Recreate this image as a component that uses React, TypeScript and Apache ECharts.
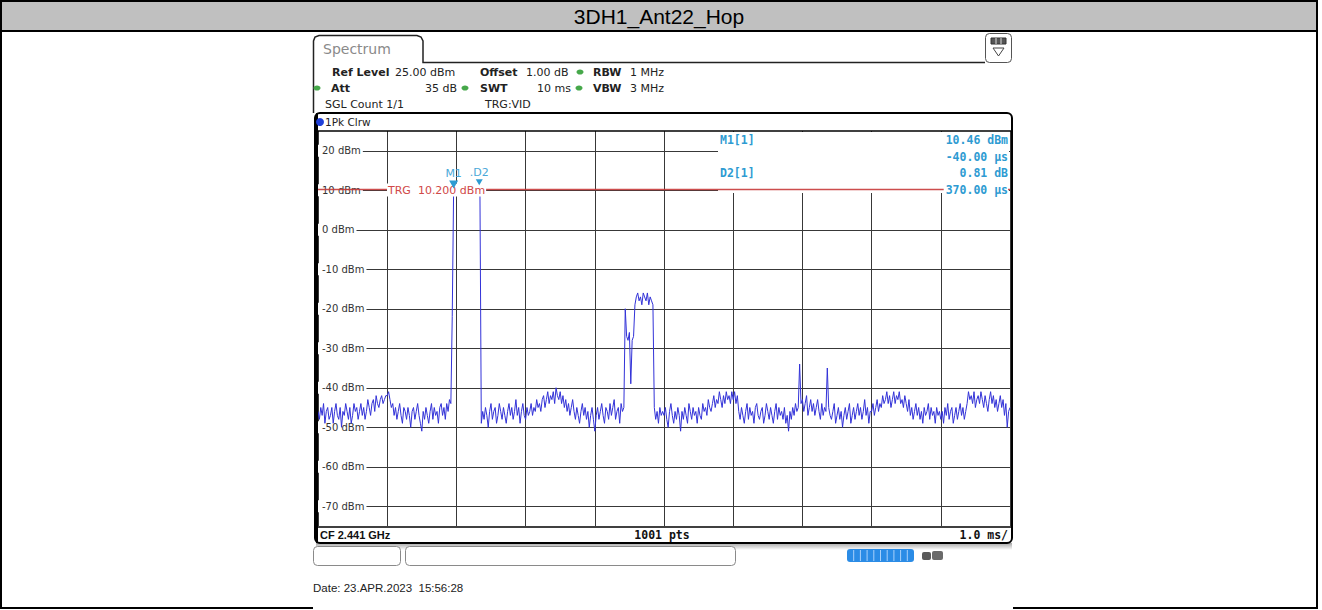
import React, { useEffect, useRef } from "react";
import * as echarts from "echarts";

// ---------- data ----------
const chartTitle = "3DH1_Ant22_Hop";
const sweepStartMs = -2;
const sweepStepMs = 0.02;
// trace levels (dBm), one row per 1 ms division (50 samples each)
const traceRow0 = [
  -46, -48, -45, -47, -44, -49, -46, -45, -48, -47,
  -45, -49, -46, -44, -47, -48, -45, -50, -46, -47,
  -44, -46, -48, -45, -49, -47, -44, -46, -45, -48,
  -46, -44, -47, -45, -48, -46, -43, -45, -47, -44,
  -43, -46, -42, -44, -45, -43, -42, -44, -43, -42,
];
const traceRow1 = [
  -42, -41, -43, -45, -44, -47, -45, -48, -46, -44,
  -47, -49, -45, -46, -48, -45, -47, -50, -46, -45,
  -48, -46, -44, -47, -49, -51, -46, -48, -45, -47,
  -49, -46, -44, -48, -45, -47, -46, -49, -45, -44,
  -47, -45, -48, -44, -46, -43, -44, -22, 10.46, 9.9,
];
const traceRow2 = [
  10.1, 9.8, 10.0, 10.2, 9.9, 10.1, 10.0, 9.8, 10.2, 10.0,
  9.9, 10.1, 10.0, 10.2, 9.9, 10.1, 11.27, 10.0, -49, -46,
  -48, -45, -47, -50, -46, -44, -48, -46, -45, -49,
  -47, -44, -46, -48, -45, -47, -49, -46, -44, -47,
  -45, -48, -46, -43, -47, -45, -49, -46, -44, -47,
];
const traceRow3 = [
  -48, -45, -47, -46, -44, -47, -45, -46, -43, -45,
  -44, -46, -43, -42, -45, -43, -41, -44, -42, -43,
  -41, -44, -40, -42, -43, -41, -44, -42, -45, -43,
  -46, -44, -47, -45, -43, -46, -48, -45, -47, -49,
  -46, -44, -47, -45, -48, -46, -50, -47, -45, -48,
];
const traceRow4 = [
  -51, -47, -45, -48, -46, -44, -47, -49, -45, -46,
  -48, -44, -47, -45, -43, -48, -46, -45, -49, -44,
  -46, -45, -20, -27, -28, -26, -39, -28, -27, -19,
  -17, -16, -18, -17, -19, -16, -17, -18, -16, -19,
  -17, -18, -19, -45, -48, -46, -49, -45, -47, -46,
];
const traceRow5 = [
  -47, -45, -48, -50, -46, -44, -47, -49, -46, -48,
  -45, -47, -51, -46, -48, -45, -47, -49, -44, -46,
  -48, -45, -47, -46, -49, -45, -47, -48, -44, -46,
  -45, -47, -43, -45, -46, -44, -42, -45, -43, -44,
  -41, -43, -45, -42, -44, -41, -43, -42, -44, -41,
];
const traceRow6 = [
  -43, -41, -44, -42, -46, -48, -45, -47, -49, -46,
  -44, -48, -45, -47, -46, -49, -45, -44, -47, -48,
  -46, -45, -49, -47, -44, -46, -48, -45, -47, -49,
  -46, -44, -48, -45, -47, -46, -48, -45, -49, -47,
  -51, -46, -48, -45, -47, -44, -46, -45, -34, -44,
];
const traceRow7 = [
  -43, -46, -44, -42, -47, -45, -43, -46, -44, -47,
  -45, -43, -46, -48, -44, -47, -45, -46, -35, -45,
  -47, -48, -46, -44, -49, -47, -45, -48, -46, -50,
  -47, -45, -48, -46, -44, -49, -47, -45, -48, -46,
  -44, -47, -45, -48, -46, -43, -47, -45, -49, -46,
];
const traceRow8 = [
  -46, -44, -47, -45, -43, -46, -44, -45, -42, -44,
  -43, -41, -44, -42, -45, -43, -41, -44, -42, -43,
  -41, -44, -43, -45, -42, -44, -46, -43, -47, -45,
  -48, -46, -44, -47, -45, -48, -46, -49, -45, -47,
  -46, -44, -48, -45, -47, -46, -49, -45, -47, -46,
];
const traceRow9 = [
  -48, -46, -49, -45, -47, -44, -48, -46, -45, -49,
  -47, -45, -48, -46, -44, -47, -45, -48, -46, -44,
  -41, -43, -42, -44, -41, -45, -43, -42, -44, -41,
  -43, -45, -42, -44, -46, -43, -41, -44, -42, -45,
  -43, -46, -44, -42, -45, -43, -47, -44, -50, -46,
];
const traceLast = [-45];

const timeMinMs = -2;
const timeMaxMs = 8;
const timeDivMs = 1;
const levelMinDbm = -75;
const levelMaxDbm = 25;
const levelTicks = [20, 10, 0, -10, -20, -30, -40, -50, -60, -70];
const triggerLevelDbm = 10.2;
const m1Coord = [-0.04, 10.46];
const d2Coord = [0.33, 11.27];

const headerRow1 = [
  { t: "Ref Level", b: true, x: 332 },
  { t: "25.00 dBm", b: false, x: 395 },
  { t: "Offset", b: true, x: 480 },
  { t: "1.00 dB", b: false, x: 526 },
  { t: "RBW", b: true, x: 593 },
  { t: "1 MHz", b: false, x: 630 },
];
const headerRow2 = [
  { t: "Att", b: true, x: 331 },
  { t: "SWT", b: true, x: 480 },
  { t: "10 ms", b: false, x: 537 },
  { t: "VBW", b: true, x: 593 },
  { t: "3 MHz", b: false, x: 630 },
];
const markerInfoLeft = ["M1[1]", "D2[1]"];
const markerInfoRight = ["10.46 dBm", "-40.00 \u00b5s", "0.81 dB", "370.00 \u00b5s"];

// ---------- styles ----------
const gridColor = "#383838";
const traceColor = "#3232d8";
const markerColor = "#2e9bd2";
const trgColor = "#c83a3a";
const sans = '"DejaVu Sans", Verdana, sans-serif';
const mono = '"DejaVu Sans Mono", monospace';
const arial = '"Liberation Sans", Arial, sans-serif';

function txt(x: number, y: number, text: string, font: string, fill: string, extra: any = {}, z = 7) {
  return {
    type: "text",
    x,
    y,
    z,
    silent: true,
    style: { text, font, fill, verticalAlign: "middle", align: "left", ...extra },
  };
}

export default function App() {
  const ref = useRef<HTMLDivElement>(null);

  useEffect(() => {
    if (!ref.current) return;
    const chart = echarts.init(ref.current, null, { renderer: "svg" });

    const levels = [
      ...traceRow0, ...traceRow1, ...traceRow2, ...traceRow3, ...traceRow4,
      ...traceRow5, ...traceRow6, ...traceRow7, ...traceRow8, ...traceRow9, ...traceLast,
    ];
    const traceData = levels.map((v, i) => [+(sweepStartMs + i * sweepStepMs).toFixed(2), v]);

    const graphics: any[] = [];
    // outer frame & title bar
    graphics.push({ type: "rect", z: 1, silent: true, shape: { x: 1, y: 1, width: 1316, height: 30 }, style: { fill: "#c0c0c0", stroke: "#000", lineWidth: 2 } });
    graphics.push(txt(659, 16.5, chartTitle, `21px ${arial}`, "#000", { align: "center" }, 2));
    graphics.push({ type: "line", z: 1, silent: true, shape: { x1: 1, y1: 31, x2: 1, y2: 609 }, style: { stroke: "#000", lineWidth: 2 } });
    graphics.push({ type: "line", z: 1, silent: true, shape: { x1: 1317, y1: 31, x2: 1317, y2: 609 }, style: { stroke: "#000", lineWidth: 2 } });
    graphics.push({ type: "line", z: 1, silent: true, shape: { x1: 0, y1: 608, x2: 313, y2: 608 }, style: { stroke: "#000", lineWidth: 2 } });
    graphics.push({ type: "line", z: 1, silent: true, shape: { x1: 1013, y1: 608, x2: 1318, y2: 608 }, style: { stroke: "#000", lineWidth: 2 } });

    // tab
    graphics.push({
      type: "polyline", z: 2, silent: true,
      shape: { points: [[313.5, 113], [313.5, 41], [315, 37], [319, 35.5], [417, 35.5], [421, 37], [423, 41], [423, 62.5], [985, 62.5]] },
      style: { stroke: "#222", lineWidth: 1.5, fill: "none" },
    });
    graphics.push(txt(323, 49, "Spectrum", `14px ${sans}`, "#8a8a8a", {}, 3));
    // icon top right
    graphics.push({ type: "rect", z: 2, silent: true, shape: { x: 985.5, y: 33.5, width: 26, height: 29, r: 4 }, style: { fill: "#fff", stroke: "#555", lineWidth: 1 } });
    graphics.push({ type: "rect", z: 3, silent: true, shape: { x: 991, y: 38, width: 15, height: 6 }, style: { fill: "#555", stroke: "#333", lineWidth: 1 } });
    graphics.push({ type: "line", z: 4, silent: true, shape: { x1: 996, y1: 38, x2: 996, y2: 44 }, style: { stroke: "#ddd", lineWidth: 1 } });
    graphics.push({ type: "line", z: 4, silent: true, shape: { x1: 1001, y1: 38, x2: 1001, y2: 44 }, style: { stroke: "#ddd", lineWidth: 1 } });
    graphics.push({ type: "polygon", z: 3, silent: true, shape: { points: [[993, 48], [1004, 48], [998.5, 56]] }, style: { fill: "none", stroke: "#444", lineWidth: 1 } });

    // header
    headerRow1.forEach((h) => graphics.push(txt(h.x, 72, h.t, `${h.b ? "bold " : ""}11px ${sans}`, "#222", {}, 3)));
    headerRow2.forEach((h) => graphics.push(txt(h.x, 88, h.t, `${h.b ? "bold " : ""}11px ${sans}`, "#222", {}, 3)));
    graphics.push(txt(457, 88, "35 dB", `11px ${sans}`, "#222", { align: "right" }, 3));
    graphics.push(txt(325, 104.5, "SGL Count 1/1", `11px ${sans}`, "#222", {}, 3));
    graphics.push(txt(485, 104.5, "TRG:VID", `11px ${sans}`, "#222", {}, 3));
    [[580, 72], [317, 88], [465, 88], [579, 88]].forEach((p) =>
      graphics.push({ type: "ellipse", z: 4, silent: true, shape: { cx: p[0], cy: p[1], rx: 3.5, ry: 2.6 }, style: { fill: "#46a84a" } })
    );

    // plot box
    graphics.push({ type: "rect", z: 9, silent: true, shape: { x: 315, y: 113, width: 697, height: 430, r: 5 }, style: { fill: "none", stroke: "#000", lineWidth: 2 } });
    graphics.push({ type: "line", z: 9, silent: true, shape: { x1: 316, y1: 131, x2: 1011, y2: 131 }, style: { stroke: "#000", lineWidth: 1.5 } });
    graphics.push({ type: "line", z: 9, silent: true, shape: { x1: 316, y1: 527, x2: 1011, y2: 527 }, style: { stroke: "#000", lineWidth: 1.5 } });
    graphics.push({ type: "line", z: 9, silent: true, shape: { x1: 317, y1: 113, x2: 317, y2: 543 }, style: { stroke: "#000", lineWidth: 2 } });
    graphics.push({
      type: "rect", z: 1, silent: true, shape: { x: 316, y: 543, width: 696, height: 7 },
      style: { fill: new echarts.graphic.LinearGradient(0, 0, 0, 1, [{ offset: 0, color: "rgba(0,0,0,0.35)" }, { offset: 1, color: "rgba(0,0,0,0)" }]) },
    });
    graphics.push({ type: "circle", z: 9, silent: true, shape: { cx: 320, cy: 122, r: 4 }, style: { fill: "#1f3fd8" } });
    graphics.push(txt(325, 122, "1Pk Clrw", `10.5px ${sans}`, "#222", {}, 9));

    // marker info box
    graphics.push({ type: "rect", z: 5, silent: true, shape: { x: 718, y: 132, width: 291, height: 61 }, style: { fill: "#fff" } });
    graphics.push(txt(720, 140, markerInfoLeft[0], `bold 11.5px ${mono}`, markerColor));
    graphics.push(txt(720, 173, markerInfoLeft[1], `bold 11.5px ${mono}`, markerColor));
    [140, 157, 173, 190].forEach((y, i) =>
      graphics.push(txt(1008, y, markerInfoRight[i], `bold 11.5px ${mono}`, markerColor, { align: "right", backgroundColor: "#fff", padding: [0, 0, 0, 2] }))
    );
    // trigger label
    graphics.push(txt(387, 190, "TRG  10.200 dBm", `11px ${sans}`, "#d04848", { backgroundColor: "#fff", padding: [1, 1, 1, 1] }));

    // bottom strip
    graphics.push(txt(320, 535, "CF 2.441 GHz", `bold 11px ${arial}`, "#111", {}, 9));
    graphics.push(txt(662, 535, "1001 pts", `bold 11.5px ${mono}`, "#111", { align: "center" }, 9));
    graphics.push(txt(1008, 535, "1.0 ms/", `bold 11.5px ${mono}`, "#111", { align: "right" }, 9));

    // soft keys and status
    graphics.push({ type: "rect", z: 3, silent: true, shape: { x: 313.5, y: 546.5, width: 87, height: 19, r: 4 }, style: { fill: "#fff", stroke: "#8a8a8a", lineWidth: 1 } });
    graphics.push({ type: "rect", z: 3, silent: true, shape: { x: 405.5, y: 546.5, width: 330, height: 19, r: 4 }, style: { fill: "#fff", stroke: "#8a8a8a", lineWidth: 1 } });
    graphics.push({ type: "rect", z: 3, silent: true, shape: { x: 847, y: 549, width: 67, height: 13, r: 3 }, style: { fill: "#2b8ce6" } });
    for (let k = 1; k < 10; k++) {
      const xx = 847 + (67 * k) / 10;
      graphics.push({ type: "line", z: 4, silent: true, shape: { x1: xx, y1: 550, x2: xx, y2: 561 }, style: { stroke: "rgba(200,225,255,0.8)", lineWidth: 1 } });
    }
    graphics.push({ type: "rect", z: 3, silent: true, shape: { x: 922, y: 552, width: 9, height: 8, r: 2 }, style: { fill: "#5a5a5a" } });
    graphics.push({ type: "rect", z: 3, silent: true, shape: { x: 932, y: 551, width: 11, height: 9, r: 2 }, style: { fill: "#6a6a6a" } });
    graphics.push(txt(313, 588, "Date: 23.APR.2023  15:56:28", `11.5px ${arial}`, "#222", {}, 3));

    const option: any = {
      animation: false,
      backgroundColor: "#fff",
      grid: { left: 318, top: 131, width: 692, height: 395, show: false },
      xAxis: {
        type: "value",
        min: timeMinMs,
        max: timeMaxMs,
        interval: timeDivMs,
        z: 0,
        axisLine: { show: false },
        axisTick: { show: false },
        axisLabel: { show: false },
        splitLine: { show: true, lineStyle: { color: gridColor, width: 1 } },
      },
      yAxis: {
        type: "value",
        min: levelMinDbm,
        max: levelMaxDbm,
        z: 3,
        axisLine: { show: false },
        axisTick: { show: false },
        splitLine: { show: false },
        axisLabel: {
          inside: true,
          margin: 0,
          customValues: levelTicks,
          formatter: (v: number) => `${v} dBm`,
          color: "#333",
          fontSize: 10,
          fontFamily: "DejaVu Sans",
          backgroundColor: "#fff",
          padding: [1, 2, 1, 4],
        },
      },
      series: [
        {
          id: "hgrid",
          type: "line",
          data: [],
          z: 1,
          silent: true,
          markLine: {
            z: 1,
            silent: true,
            symbol: "none",
            label: { show: false },
            emphasis: { disabled: true },
            lineStyle: { color: gridColor, width: 1, type: "solid" },
            data: levelTicks.map((v) => ({ yAxis: v })),
          },
        },
        {
          id: "trace",
          type: "line",
          data: traceData,
          z: 4,
          silent: true,
          showSymbol: false,
          symbol: "none",
          lineStyle: { color: traceColor, width: 1 },
        },
        {
          id: "trigger",
          type: "line",
          data: [],
          z: 6,
          silent: true,
          markLine: {
            z: 6,
            silent: true,
            symbol: "none",
            label: { show: false },
            emphasis: { disabled: true },
            lineStyle: { color: trgColor, width: 1.3, type: "solid", opacity: 0.9 },
            data: [{ yAxis: triggerLevelDbm }],
          },
        },
        {
          id: "markers",
          type: "line",
          data: [],
          z: 8,
          silent: true,
          markPoint: {
            z: 8,
            silent: true,
            symbol: "triangle",
            symbolRotate: 180,
            symbolSize: [9, 8],
            symbolOffset: [0, -4],
            itemStyle: { color: markerColor },
            label: {
              show: true,
              position: "top",
              distance: 1,
              color: "#4aa8d8",
              fontSize: 11,
              fontFamily: "DejaVu Sans",
              formatter: (p: any) => p.name,
            },
            data: [
              { name: "M1", coord: m1Coord },
              { name: ".D2", coord: d2Coord, symbolSize: [7, 6], symbolOffset: [0, -3] },
            ],
          },
        },
      ],
      graphic: { elements: graphics },
    };

    chart.setOption(option);
    return () => chart.dispose();
  }, []);

  return (
    <div
      ref={ref}
      style={{ position: "absolute", left: 0, top: 0, width: 1322, height: 610, background: "#fff" }}
    />
  );
}
